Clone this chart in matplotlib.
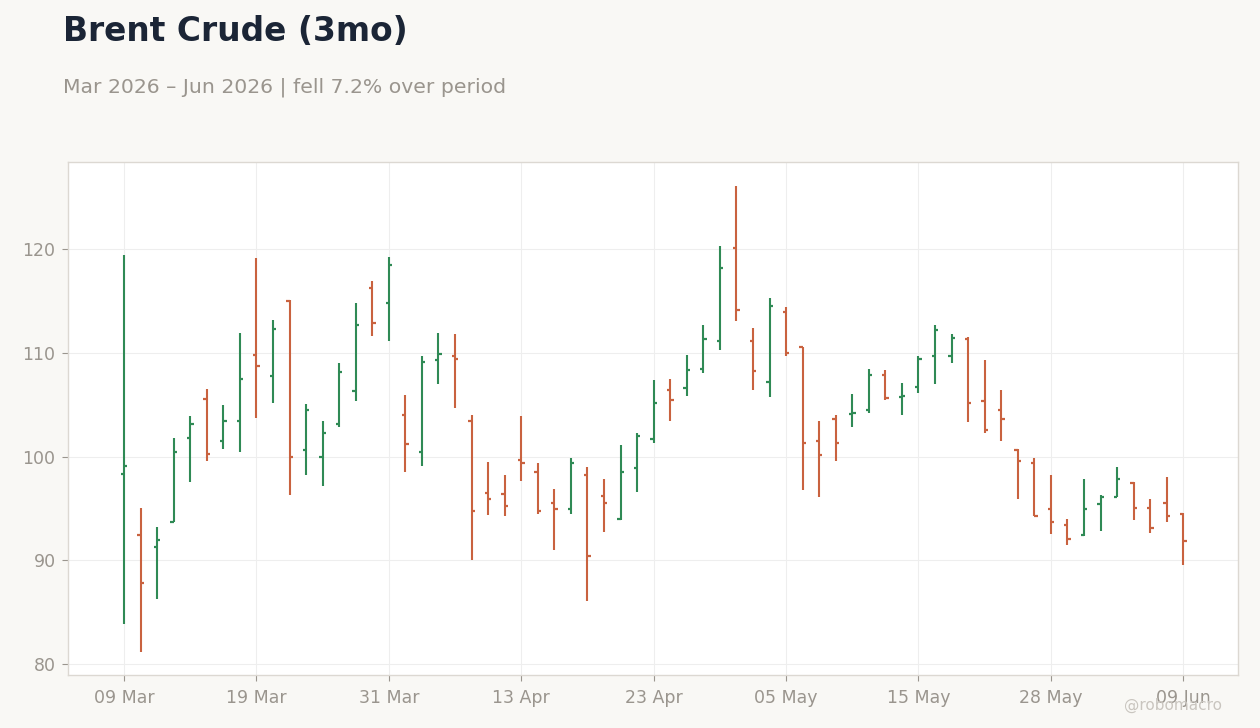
import matplotlib
matplotlib.use("Agg")
import matplotlib.pyplot as plt
import numpy as np

# OHLC values, one per trading day
opens = [98.36, 92.44, 91.32, 93.70, 101.74, 105.59, 101.45, 103.47, 109.74, 107.72,
         114.95, 100.58, 100.00, 103.09, 106.27, 116.21, 114.76, 103.96, 100.39, 109.26,
         109.65, 103.47, 96.53, 96.43, 99.71, 98.46, 95.56, 94.98, 98.26, 96.24,
         93.98, 98.94, 101.64, 106.37, 106.56, 108.39, 111.09, 120.06, 111.09, 107.14,
         113.89, 110.51, 101.54, 103.57, 104.05, 104.53, 107.81, 105.69, 106.66, 109.65,
         109.65, 111.29, 105.31, 104.53, 100.58, 99.42, 94.98, 93.44, 92.44, 95.47,
         96.14, 97.49, 95.08, 95.56, 94.44]
highs = [119.45, 95.05, 93.22, 101.80, 103.92, 106.53, 104.98, 111.93, 119.16, 113.18,
         115.11, 105.08, 103.44, 109.04, 114.82, 116.95, 119.26, 105.95, 109.71, 111.93,
         111.83, 104.02, 99.49, 98.23, 103.92, 99.39, 96.88, 99.87, 99.00, 97.85,
         101.13, 102.28, 107.40, 107.49, 109.81, 112.70, 120.32, 126.11, 112.41, 115.31,
         114.44, 110.51, 103.44, 104.02, 106.05, 108.46, 108.36, 107.11, 109.71, 112.70,
         111.83, 111.54, 109.32, 106.37, 100.74, 99.90, 98.17, 93.99, 97.85, 96.30,
         99.00, 97.59, 95.92, 98.04, 94.57]
lows = [83.90, 81.19, 86.30, 93.70, 97.59, 99.61, 100.77, 100.39, 103.76, 105.11,
        96.33, 98.17, 97.20, 102.80, 105.31, 111.58, 111.09, 98.46, 99.04, 106.95,
        104.63, 90.06, 94.41, 94.31, 97.68, 94.50, 91.03, 94.50, 86.11, 92.77,
        93.92, 96.62, 101.35, 103.47, 105.88, 108.01, 110.23, 113.02, 106.37, 105.69,
        109.65, 96.82, 96.14, 99.61, 102.89, 104.15, 105.40, 103.96, 106.08, 106.95,
        108.97, 103.28, 102.22, 101.45, 95.95, 94.28, 92.57, 91.51, 92.38, 92.86,
        96.05, 93.92, 92.67, 93.73, 89.58]
closes = [99.04, 87.81, 92.00, 100.48, 103.18, 100.29, 103.47, 107.43, 108.68, 112.25,
          100.00, 104.53, 102.22, 108.10, 112.64, 112.83, 118.42, 101.16, 109.07, 109.84,
          109.36, 94.79, 95.95, 95.27, 99.42, 94.79, 94.98, 99.42, 90.45, 95.56,
          98.55, 101.93, 105.11, 105.40, 108.30, 111.29, 118.14, 114.08, 108.20, 114.47,
          109.94, 101.35, 100.10, 101.35, 104.24, 107.81, 105.66, 105.79, 109.36, 112.15,
          111.38, 105.11, 102.60, 103.57, 99.61, 94.31, 93.73, 92.09, 94.98, 96.05,
          97.88, 95.08, 93.15, 94.31, 91.90]

tick_pos = [0, 8, 16, 24, 32, 40, 48, 56, 64]
tick_labels = ["09 Mar", "19 Mar", "31 Mar", "13 Apr", "23 Apr",
               "05 May", "15 May", "28 May", "09 Jun"]

UP = "#2f8a55"
DOWN = "#c9623f"
GRAY = "#9a958e"

o = np.array(opens)
h = np.array(highs)
l = np.array(lows)
c = np.array(closes)
x = np.arange(len(o))
cols = [UP if cc >= oo else DOWN for oo, cc in zip(o, c)]

fig = plt.figure(figsize=(12.6, 7.28), dpi=100, facecolor="#f9f8f5")
ax = fig.add_axes([0.054, 0.0728, 0.9285, 0.7047])
ax.set_facecolor("white")

tw = 0.2
ax.vlines(x, l, h, colors=cols, linewidth=1.5, zorder=3)
ax.hlines(o, x - tw, x, colors=cols, linewidth=1.6, zorder=3)
ax.hlines(c, x, x + tw, colors=cols, linewidth=1.6, zorder=3)

ax.set_xlim(-3.38, 67.3)
ax.set_ylim(78.94, 128.39)
ax.set_yticks([80, 90, 100, 110, 120])
ax.set_xticks(tick_pos)
ax.set_xticklabels(tick_labels)
ax.grid(True, color="#eeeeee", linewidth=0.8, zorder=0)
ax.set_axisbelow(True)
for s in ax.spines.values():
    s.set_color("#dcd8d2")
    s.set_linewidth(1.0)
ax.tick_params(colors=GRAY, labelsize=12.5, length=4, width=0.8)
ax.tick_params(axis="x", pad=6)
ax.tick_params(axis="y", pad=5)

fig.text(0.05, 0.943, "Brent Crude (3mo)", fontsize=23.7, fontweight="bold",
         color="#1b2536", va="baseline")
fig.text(0.05, 0.873, "Mar 2026 \u2013 Jun 2026 | fell 7.2% over period",
         fontsize=14.65, color=GRAY, va="baseline")
fig.text(0.97, 0.025, "@robomacro", fontsize=11, color="#c9c5bf",
         ha="right", va="baseline")

fig.savefig("out.png", dpi=100, facecolor=fig.get_facecolor())
